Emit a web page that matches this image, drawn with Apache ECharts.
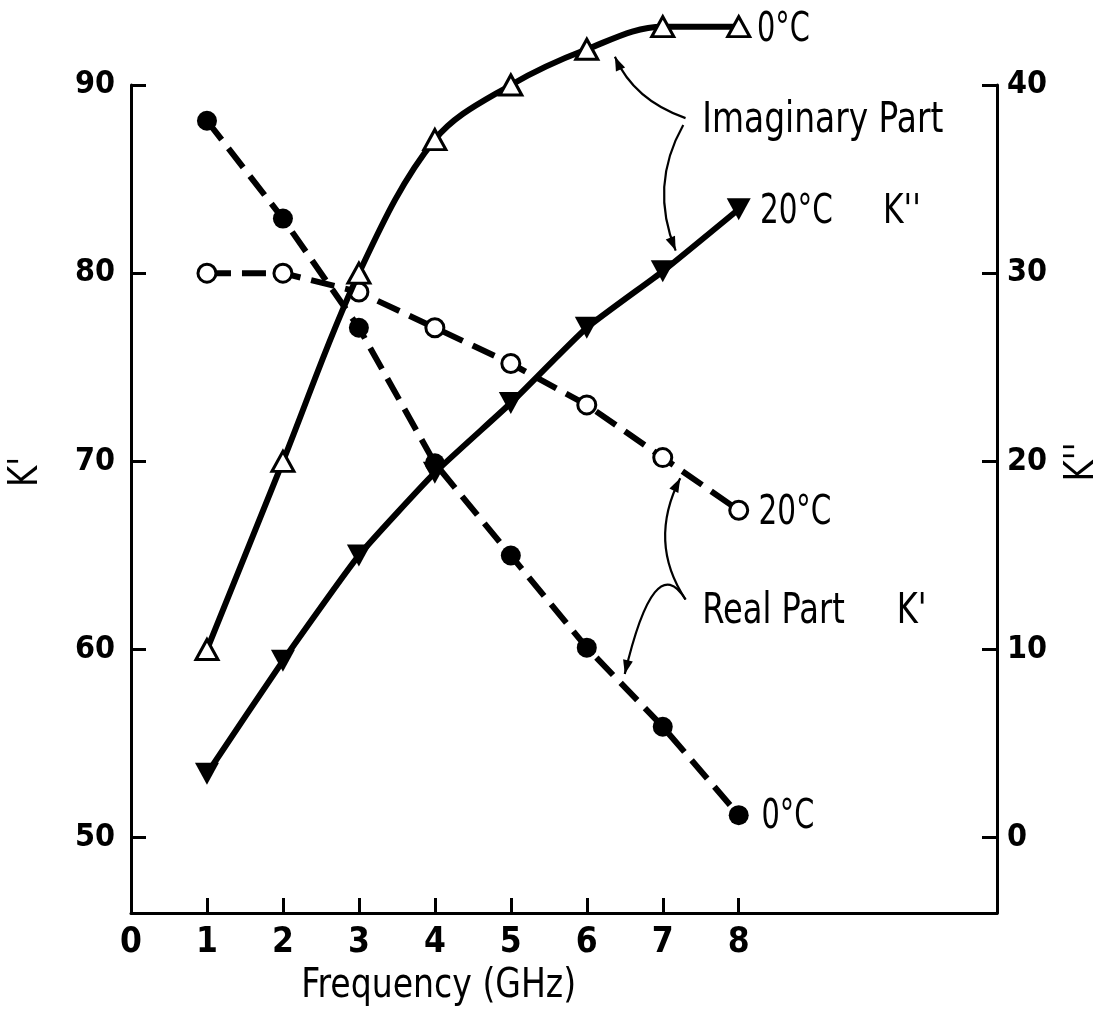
<!DOCTYPE html>
<html>
<head>
<meta charset="utf-8">
<script src="https://cdn.jsdelivr.net/npm/echarts@6/dist/echarts.min.js"></script>
<style>
html,body{margin:0;padding:0;background:#fff;}
#chart{width:1105px;height:1014px;}
</style>
</head>
<body>
<div id="chart"></div>
<script>
// ---- data ----
const freq = [1, 2, 3, 4, 5, 6, 7, 8];
const imag0C = [10.0, 20.0, 30.0, 37.1, 40.0, 41.9, 43.1, 43.1];   // K'' (right axis)
const imag20C = [3.4, 9.4, 15.0, 19.4, 23.1, 27.1, 30.1, 33.4];    // K'' (right axis)
const real0C = [88.1, 82.9, 77.1, 69.9, 65.0, 60.1, 55.9, 51.2];   // K' (left axis)
const real20C = [80.0, 80.0, 79.0, 77.1, 75.2, 73.0, 70.2, 67.4];  // K' (left axis)
const xTickLabels = [0, 1, 2, 3, 4, 5, 6, 7, 8];
const leftTicks = [50, 60, 70, 80, 90];
const rightTicks = [0, 10, 20, 30, 40];

const FONT = '"DejaVu Sans Condensed", "DejaVu Sans", sans-serif';
const pairs = ys => freq.map((f, i) => [f, ys[i]]);

const chart = echarts.init(document.getElementById('chart'), null, {renderer: 'canvas'});

const axisCommon = {
  axisLine: {show: true, onZero: false, lineStyle: {color: '#000', width: 3}},
  axisTick: {show: true, inside: true, length: 15, lineStyle: {color: '#000', width: 3}},
  splitLine: {show: false}
};
const tickFont = {fontFamily: FONT, fontWeight: 'bold', color: '#000'};

const option = {
  backgroundColor: '#fff',
  animation: false,
  grid: {left: 131, right: 108, top: 85, bottom: 101, containLabel: false, outerBoundsMode: 'none'},
  xAxis: Object.assign({}, axisCommon, {
    type: 'value', min: 0, max: 11.4,
    axisTick: Object.assign({}, axisCommon.axisTick, {customValues: xTickLabels.filter(v => v > 0)}),
    axisLabel: Object.assign({customValues: xTickLabels, fontSize: 35, margin: 12}, tickFont)
  }),
  yAxis: [
    Object.assign({}, axisCommon, {
      type: 'value', position: 'left', min: 46, max: 90,
      axisTick: Object.assign({}, axisCommon.axisTick, {customValues: leftTicks}),
      axisLabel: Object.assign({customValues: leftTicks, fontSize: 32, margin: 16}, tickFont)
    }),
    Object.assign({}, axisCommon, {
      type: 'value', position: 'right', min: -4, max: 40,
      axisTick: Object.assign({}, axisCommon.axisTick, {customValues: rightTicks}),
      axisLabel: Object.assign({customValues: rightTicks, fontSize: 32, margin: 10}, tickFont)
    })
  ],
  series: [
    {
      name: 'Imaginary 0C', type: 'line', yAxisIndex: 1, data: pairs(imag0C), clip: false,
      smooth: 0.35, symbol: 'triangle', symbolSize: [22, 20],
      lineStyle: {color: '#000', width: 6},
      itemStyle: {color: '#fff', borderColor: '#000', borderWidth: 3}, z: 3
    },
    {
      name: 'Imaginary 20C', type: 'line', yAxisIndex: 1, data: pairs(imag20C), clip: false,
      smooth: 0.15, symbol: 'triangle', symbolRotate: 180, symbolSize: [24, 22],
      lineStyle: {color: '#000', width: 6},
      itemStyle: {color: '#000', borderColor: '#000', borderWidth: 0}, z: 3
    },
    {
      name: 'Real 0C', type: 'line', yAxisIndex: 0, data: pairs(real0C), clip: false,
      symbol: 'circle', symbolSize: 20,
      lineStyle: {color: '#000', width: 6, type: [24, 11]},
      itemStyle: {color: '#000', borderColor: '#000', borderWidth: 0}, z: 2
    },
    {
      name: 'Real 20C', type: 'line', yAxisIndex: 0, data: pairs(real20C), clip: false,
      symbol: 'circle', symbolSize: 18,
      lineStyle: {color: '#000', width: 6, type: [24, 11]},
      itemStyle: {color: '#fff', borderColor: '#000', borderWidth: 3}, z: 2
    }
  ]
};
chart.setOption(option);

// ---- annotations (anchored in data space of the K' axis) ----
const texts = [
  {t: '0°C', at: [8.24, 92.87], size: 40, sx: 0.8},
  {t: 'Imaginary Part', at: [7.52, 88.09], size: 43, sx: 0.85},
  {t: '20°C', at: [8.28, 83.25], size: 41, sx: 0.8},
  {t: "K''", at: [9.9, 83.25], size: 41, sx: 0.85},
  {t: '20°C', at: [8.26, 67.25], size: 41, sx: 0.8},
  {t: 'Real Part', at: [7.52, 62.0], size: 42, sx: 0.85},
  {t: "K'", at: [10.08, 62.0], size: 42, sx: 0.85},
  {t: '0°C', at: [8.3, 51.05], size: 40, sx: 0.8},
  {t: 'Frequency (GHz)', at: [4.05, 42.07], size: 40, sx: 0.92, align: 'center'}
];
// rotated axis titles
const vtexts = [
  {t: "K'", at: [-1.37, 69.44], size: 40},
  {t: "K''", at: [12.53, 69.97], size: 40}
];
// quadratic curves: start, control, end (data coords on K' axis)
const arrows = [
  {s: [7.3, 88.24], c: [6.62, 89.2], e: [6.37, 91.5]},
  {s: [7.27, 87.87], c: [6.82, 84.65], e: [7.17, 81.2]},
  {s: [7.3, 62.66], c: [6.8, 65.7], e: [7.23, 69.1]},
  {s: [7.3, 62.66], c: [6.89, 65.4], e: [6.5, 58.7]}
];

function px(p) { return chart.convertToPixel({xAxisIndex: 0, yAxisIndex: 0}, p); }

const graphics = [];
texts.forEach(o => {
  const p = px(o.at);
  graphics.push({
    type: 'text', x: p[0], y: p[1], scaleX: o.sx, z: 10,
    style: {text: o.t, fill: '#000', font: (o.bold ? 'bold ' : '') + o.size + 'px ' + FONT,
            textAlign: o.align || 'left', textVerticalAlign: 'middle'}
  });
});
vtexts.forEach(o => {
  const p = px(o.at);
  graphics.push({
    type: 'text', x: p[0], y: p[1], rotation: Math.PI / 2, scaleX: 0.9, z: 10,
    style: {text: o.t, fill: '#000', font: o.size + 'px ' + FONT, textAlign: 'center', textVerticalAlign: 'middle'}
  });
});
arrows.forEach(a => {
  const s = px(a.s), c = px(a.c), e = px(a.e);
  graphics.push({
    type: 'bezierCurve', z: 10,
    shape: {x1: s[0], y1: s[1], cpx1: c[0], cpy1: c[1], x2: e[0], y2: e[1]},
    style: {stroke: '#000', lineWidth: 2.2, fill: null}
  });
  const dx = e[0] - c[0], dy = e[1] - c[1];
  const L = Math.hypot(dx, dy), ux = dx / L, uy = dy / L;
  const len = 14, half = 5;
  const bx = e[0] - ux * len, by = e[1] - uy * len;
  graphics.push({
    type: 'polygon', z: 10,
    shape: {points: [[e[0], e[1]], [bx - uy * half, by + ux * half], [bx + uy * half, by - ux * half]]},
    style: {fill: '#000'}
  });
});
chart.setOption({graphic: graphics});
</script>
</body>
</html>
